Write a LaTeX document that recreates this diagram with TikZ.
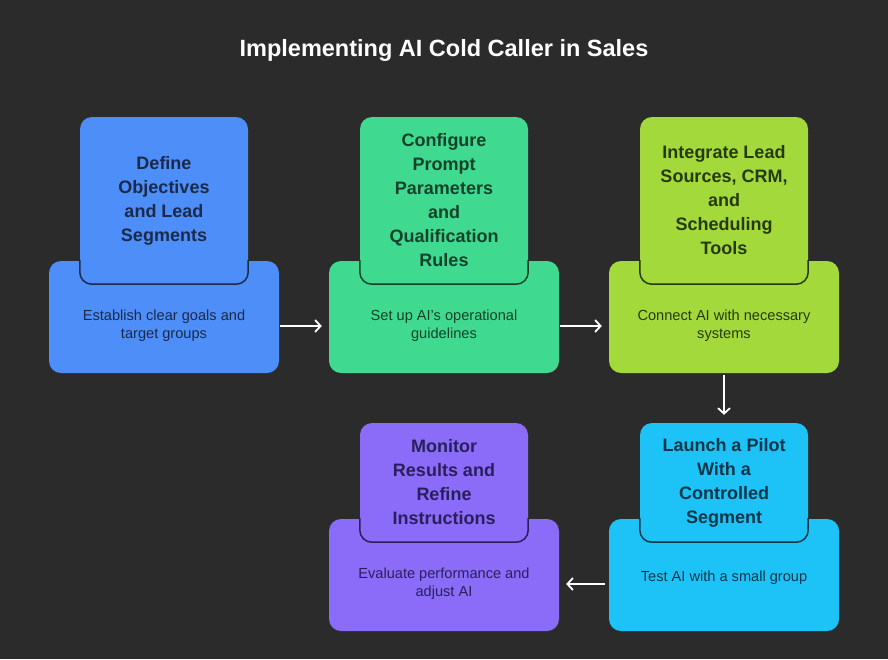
\documentclass[tikz,border=0pt]{standalone}
\usepackage{fontspec}
\setmainfont{Liberation Sans}
\usetikzlibrary{arrows.meta}
\definecolor{bg}{HTML}{2B2B2B}
\definecolor{cblue}{HTML}{4D8EF8}
\definecolor{tblue}{HTML}{1B2A4A}
\definecolor{cgreen}{HTML}{3FDA8F}
\definecolor{tgreen}{HTML}{15402A}
\definecolor{clime}{HTML}{A4D93C}
\definecolor{tlime}{HTML}{243A0A}
\definecolor{ccyan}{HTML}{1DC3F7}
\definecolor{tcyan}{HTML}{0B3648}
\definecolor{cpurple}{HTML}{8A6CF8}
\definecolor{tpurple}{HTML}{2A1F5C}
\begin{document}
\begin{tikzpicture}[x=1pt,y=-1pt,
  basebox/.style={rounded corners=12pt, minimum width=230pt, minimum height=112pt, inner sep=0pt},
  headbox/.style={rounded corners=12pt, minimum width=168pt, minimum height=167pt, inner sep=0pt, font=\bfseries\fontsize{18}{24}\selectfont, align=center},
  shorthead/.style={minimum height=119pt},
  desc/.style={font=\fontsize{14.6}{18}\selectfont, align=center},
  rim/.style={line width=1.5pt, rounded corners=12pt},
  arr/.style={draw=white, line width=1.8pt, -{Straight Barb[length=5.5pt,width=12pt]}}]
\fill[bg] (0,0) rectangle (888,659);
\useasboundingbox (0,0) rectangle (888,659);
\node[font=\bfseries\fontsize{23.5}{28}\selectfont, text=white] (title) at (444,50) {Implementing AI Cold Caller in Sales};
% row 1
\node[basebox, fill=cblue] (b1) at (164,317) {};
\node[headbox, fill=cblue, text=tblue] (h1) at (164,200.5) {Define\\Objectives\\and Lead\\Segments};
\begin{scope}\clip (b1.north west) rectangle (b1.south east);
\draw[rim, tblue] (h1.north west) rectangle (h1.south east);\end{scope}
\node[desc, text=tblue] (d1) at (164,326) {Establish clear goals and\\target groups};
\node[basebox, fill=cgreen] (b2) at (444,317) {};
\node[headbox, fill=cgreen, text=tgreen] (h2) at (444,200.5) {Configure\\Prompt\\Parameters\\and\\Qualification\\Rules};
\begin{scope}\clip (b2.north west) rectangle (b2.south east);
\draw[rim, tgreen] (h2.north west) rectangle (h2.south east);\end{scope}
\node[desc, text=tgreen] (d2) at (444,326) {Set up AI's operational\\guidelines};
\node[basebox, fill=clime] (b3) at (724,317) {};
\node[headbox, fill=clime, text=tlime] (h3) at (724,200.5) {Integrate Lead\\Sources, CRM,\\and\\Scheduling\\Tools};
\begin{scope}\clip (b3.north west) rectangle (b3.south east);
\draw[rim, tlime] (h3.north west) rectangle (h3.south east);\end{scope}
\node[desc, text=tlime] (d3) at (724,326) {Connect AI with necessary\\systems};
% row 2
\node[basebox, fill=ccyan] (b4) at (724,575) {};
\node[headbox, shorthead, fill=ccyan, text=tcyan] (h4) at (724,482.5) {Launch a Pilot\\With a\\Controlled\\Segment};
\begin{scope}\clip (b4.north west) rectangle (b4.south east);
\draw[rim, tcyan] (h4.north west) rectangle (h4.south east);\end{scope}
\node[desc, text=tcyan] (d4) at (724,578) {Test AI with a small group};
\node[basebox, fill=cpurple] (b5) at (444,575) {};
\node[headbox, shorthead, fill=cpurple, text=tpurple] (h5) at (444,482.5) {Monitor\\Results and\\Refine\\Instructions};
\begin{scope}\clip (b5.north west) rectangle (b5.south east);
\draw[rim, tpurple] (h5.north west) rectangle (h5.south east);\end{scope}
\node[desc, text=tpurple] (d5) at (444,584) {Evaluate performance and\\adjust AI};
% arrows
\draw[arr, shorten <=1pt, shorten >=7pt] ([yshift=-9pt]b1.east) -- ([yshift=-9pt]b2.west);
\draw[arr, shorten <=1pt, shorten >=7pt] ([yshift=-9pt]b2.east) -- ([yshift=-9pt]b3.west);
\draw[arr, shorten <=2pt, shorten >=8pt] (b3.south) -- (h4.north);
\draw[arr, shorten <=4pt, shorten >=7pt] ([yshift=-9pt]b4.west) -- ([yshift=-9pt]b5.east);
\end{tikzpicture}
\end{document}
